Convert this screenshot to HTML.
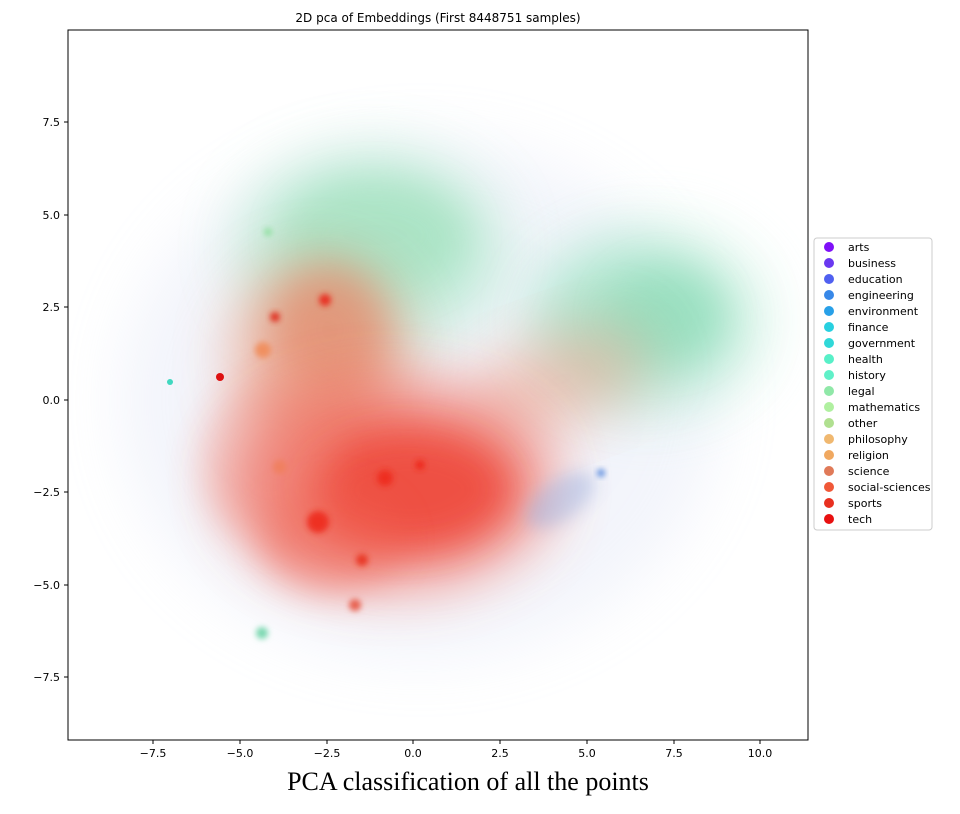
<!DOCTYPE html>
<html><head><meta charset="utf-8"><style>
body{margin:0;background:#fff;width:960px;height:810px;overflow:hidden;font-family:"DejaVu Sans","Liberation Sans",sans-serif}
</style></head><body>
<svg width="960" height="810" xmlns="http://www.w3.org/2000/svg">
<defs>
<filter id="b30" x="-50%" y="-50%" width="200%" height="200%"><feGaussianBlur stdDeviation="30"/></filter>
<filter id="b18" x="-50%" y="-50%" width="200%" height="200%"><feGaussianBlur stdDeviation="18"/></filter>
<filter id="b8" x="-50%" y="-50%" width="200%" height="200%"><feGaussianBlur stdDeviation="8"/></filter>
<filter id="b3" x="-50%" y="-50%" width="200%" height="200%"><feGaussianBlur stdDeviation="3"/></filter>
<clipPath id="ax"><rect x="68" y="30" width="740" height="710"/></clipPath>
</defs>
<rect x="68" y="30" width="740" height="710" fill="#fff"/>
<g clip-path="url(#ax)">
<ellipse cx="420" cy="400" rx="300" ry="260" fill="#c8d0ee" opacity="0.22" filter="url(#b30)"/>
<ellipse cx="650" cy="320" rx="120" ry="95" fill="#c0ecdc" opacity="0.4" filter="url(#b30)"/>
<!-- green top -->
<ellipse cx="370" cy="250" rx="130" ry="95" fill="#b0e8cc" opacity="0.8" filter="url(#b30)"/>
<ellipse cx="375" cy="235" rx="90" ry="55" fill="#a0e0bc" opacity="0.6" filter="url(#b18)"/>
<!-- green right lobe -->
<ellipse cx="640" cy="320" rx="100" ry="72" fill="#9ce2c2" opacity="0.8" filter="url(#b30)"/>
<ellipse cx="665" cy="315" rx="55" ry="45" fill="#8cdcb8" opacity="0.55" filter="url(#b18)"/>
<!-- orange left mid -->
<ellipse cx="320" cy="355" rx="85" ry="95" fill="#e89070" opacity="0.7" filter="url(#b30)"/>
<ellipse cx="330" cy="330" rx="55" ry="60" fill="#e58060" opacity="0.45" filter="url(#b18)"/>
<!-- orange right band -->
<ellipse cx="560" cy="380" rx="95" ry="45" fill="#eca088" opacity="0.55" filter="url(#b30)" transform="rotate(-20 560 380)"/>
<!-- red core -->
<ellipse cx="390" cy="485" rx="160" ry="100" fill="#f05545" opacity="0.7" filter="url(#b30)"/>
<ellipse cx="410" cy="490" rx="100" ry="60" fill="#ee3426" opacity="0.65" filter="url(#b18)"/>
<ellipse cx="330" cy="540" rx="70" ry="50" fill="#f06050" opacity="0.45" filter="url(#b18)"/>
<ellipse cx="270" cy="460" rx="70" ry="80" fill="#f08070" opacity="0.3" filter="url(#b18)"/>
<ellipse cx="560" cy="500" rx="40" ry="20" fill="#9ab4e4" opacity="0.45" filter="url(#b8)" transform="rotate(-35 560 500)"/>
<!-- dots -->
<circle cx="318" cy="522" r="11" fill="#ee2a1e" opacity="0.9" filter="url(#b3)"/>
<circle cx="362" cy="560" r="6" fill="#e8301e" opacity="0.9" filter="url(#b3)"/>
<circle cx="385" cy="478" r="8" fill="#ee2a1e" opacity="0.9" filter="url(#b3)"/>
<circle cx="420" cy="465" r="5" fill="#ee2a1e" filter="url(#b3)"/>
<circle cx="325" cy="300" r="6" fill="#e83020" filter="url(#b3)"/>
<circle cx="275" cy="317" r="5" fill="#e03020" filter="url(#b3)"/>
<circle cx="263" cy="350" r="8" fill="#f09060" filter="url(#b3)"/>
<circle cx="220" cy="377" r="4" fill="#dd1010"/>
<circle cx="280" cy="467" r="7" fill="#f08060" filter="url(#b3)"/>
<circle cx="355" cy="605" r="6" fill="#e86050" filter="url(#b3)"/>
<circle cx="262" cy="633" r="6" fill="#7ad8b0" filter="url(#b3)"/>
<circle cx="268" cy="232" r="4" fill="#90e0a0" filter="url(#b3)"/>
<circle cx="170" cy="382" r="3" fill="#40d8c0"/>
<circle cx="601" cy="473" r="4" fill="#6090e0" filter="url(#b3)"/>
</g>
<rect x="68" y="30" width="740" height="710" fill="none" stroke="#000" stroke-width="1"/>
<text x="438" y="22" font-size="12" text-anchor="middle">2D pca of Embeddings (First 8448751 samples)</text>
<g font-size="11" text-anchor="middle">
<g stroke="#000"><line x1="153" y1="740" x2="153" y2="744"/><line x1="240" y1="740" x2="240" y2="744"/><line x1="327" y1="740" x2="327" y2="744"/><line x1="413" y1="740" x2="413" y2="744"/><line x1="500" y1="740" x2="500" y2="744"/><line x1="587" y1="740" x2="587" y2="744"/><line x1="674" y1="740" x2="674" y2="744"/><line x1="760" y1="740" x2="760" y2="744"/></g>
<text x="153" y="757">−7.5</text><text x="240" y="757">−5.0</text><text x="327" y="757">−2.5</text><text x="413" y="757">0.0</text><text x="500" y="757">2.5</text><text x="587" y="757">5.0</text><text x="674" y="757">7.5</text><text x="760" y="757">10.0</text>
</g>
<g font-size="11" text-anchor="end">
<g stroke="#000"><line x1="64" y1="122" x2="68" y2="122"/><line x1="64" y1="215" x2="68" y2="215"/><line x1="64" y1="307" x2="68" y2="307"/><line x1="64" y1="400" x2="68" y2="400"/><line x1="64" y1="492" x2="68" y2="492"/><line x1="64" y1="585" x2="68" y2="585"/><line x1="64" y1="677" x2="68" y2="677"/></g>
<text x="60" y="126">7.5</text><text x="60" y="219">5.0</text><text x="60" y="311">2.5</text><text x="60" y="404">0.0</text><text x="60" y="496">−2.5</text><text x="60" y="589">−5.0</text><text x="60" y="681">−7.5</text>
</g>
<rect x="814" y="238" width="118" height="292" rx="3" fill="#fff" stroke="#ccc"/>
<g font-size="11">
<circle cx="829" cy="247" r="5" fill="#7f10f8"/><text x="848" y="251">arts</text>
<circle cx="829" cy="263" r="5" fill="#6a38f0"/><text x="848" y="267">business</text>
<circle cx="829" cy="279" r="5" fill="#5060f0"/><text x="848" y="283">education</text>
<circle cx="829" cy="295" r="5" fill="#3888e8"/><text x="848" y="299">engineering</text>
<circle cx="829" cy="311" r="5" fill="#28a0e8"/><text x="848" y="315">environment</text>
<circle cx="829" cy="327" r="5" fill="#28d0e0"/><text x="848" y="331">finance</text>
<circle cx="829" cy="343" r="5" fill="#30d8d8"/><text x="848" y="347">government</text>
<circle cx="829" cy="359" r="5" fill="#58f0c8"/><text x="848" y="363">health</text>
<circle cx="829" cy="375" r="5" fill="#60f0c8"/><text x="848" y="379">history</text>
<circle cx="829" cy="391" r="5" fill="#90e8a8"/><text x="848" y="395">legal</text>
<circle cx="829" cy="407" r="5" fill="#b0f0a0"/><text x="848" y="411">mathematics</text>
<circle cx="829" cy="423" r="5" fill="#b0e090"/><text x="848" y="427">other</text>
<circle cx="829" cy="439" r="5" fill="#f0b870"/><text x="848" y="443">philosophy</text>
<circle cx="829" cy="455" r="5" fill="#f0a860"/><text x="848" y="459">religion</text>
<circle cx="829" cy="471" r="5" fill="#e07a58"/><text x="848" y="475">science</text>
<circle cx="829" cy="487" r="5" fill="#f05838"/><text x="848" y="491">social-sciences</text>
<circle cx="829" cy="503" r="5" fill="#e83020"/><text x="848" y="507">sports</text>
<circle cx="829" cy="519" r="5" fill="#e81010"/><text x="848" y="523">tech</text>
</g>
<text x="468" y="790" font-family="Liberation Serif, serif" font-size="26" text-anchor="middle">PCA classification of all the points</text>
</svg>
</body></html>
